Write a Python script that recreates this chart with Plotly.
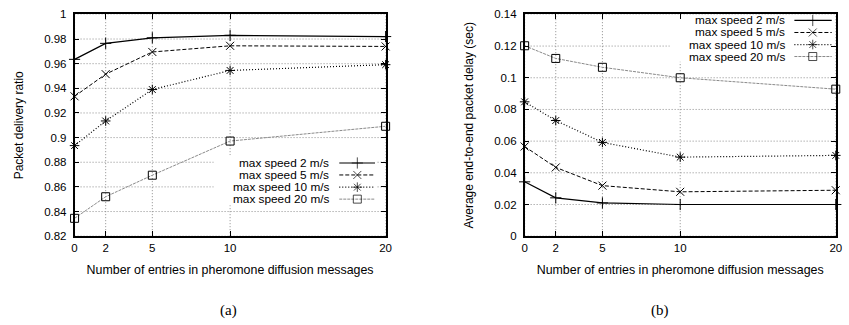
import plotly.graph_objects as go

# ---------------- data ----------------
entries = [0, 2, 5, 10, 20]
x_tick_labels = ["0", "2", "5", "10", "20"]
series_names = ["max speed 2 m/s", "max speed 5 m/s", "max speed 10 m/s", "max speed 20 m/s"]

pdr_2 = [0.9635, 0.9765, 0.981, 0.983, 0.982]
pdr_5 = [0.9335, 0.9515, 0.9695, 0.9745, 0.974]
pdr_10 = [0.8935, 0.9135, 0.939, 0.9545, 0.9592]
pdr_20 = [0.8345, 0.852, 0.8695, 0.8972, 0.9092]

delay_2 = [0.0343, 0.0242, 0.021, 0.0200, 0.0200]
delay_5 = [0.0566, 0.0434, 0.0319, 0.0280, 0.0290]
delay_10 = [0.0848, 0.0730, 0.0592, 0.0499, 0.0510]
delay_20 = [0.1202, 0.1122, 0.1066, 0.1000, 0.0928]

pdr_ticks = [0.82, 0.84, 0.86, 0.88, 0.90, 0.92, 0.94, 0.96, 0.98, 1.0]
pdr_tick_labels = ["0.82", "0.84", "0.86", "0.88", "0.9", "0.92", "0.94", "0.96", "0.98", "1"]
delay_ticks = [0, 0.02, 0.04, 0.06, 0.08, 0.10, 0.12, 0.14]
delay_tick_labels = ["0", "0.02", "0.04", "0.06", "0.08", "0.1", "0.12", "0.14"]

# ---------------- styles ----------------
styles = [
    dict(color="black", dash="solid", symbol="cross-thin-open", width=1.2),
    dict(color="black", dash="4px,2px", symbol="x-thin-open", width=1.0),
    dict(color="black", dash="1px,2px", symbol="asterisk-open", width=1.2),
    dict(color="#8a8a8a", dash="3px,1px", symbol="square-open", width=1.0),
]
FONT = "Liberation Sans, Arial, sans-serif"
GRID = dict(color="#8c8c8c", width=1, dash="1px,2px")

fig = go.Figure()


def add_series(ys_list, xa, ya):
    for ys, st in zip(ys_list, styles):
        fig.add_trace(go.Scatter(
            x=entries, y=ys, mode="lines+markers", xaxis=xa, yaxis=ya,
            line=dict(color=st["color"], dash=st["dash"], width=st["width"]),
            marker=dict(symbol=st["symbol"], size=8, color="black",
                        line=dict(color="black", width=1)),
            cliponaxis=False, showlegend=False, hoverinfo="skip"))


add_series([pdr_2, pdr_5, pdr_10, pdr_20], "x", "y")
add_series([delay_2, delay_5, delay_10, delay_20], "x2", "y2")

shapes = []
annotations = []

# ---------------- grid lines (below-layer shapes so the key box can mask them) ----------------
for xr, yr, yticks in (("x", "y", pdr_ticks), ("x2", "y2", delay_ticks)):
    for xv in entries:
        shapes.append(dict(type="line", xref=xr, yref=yr + " domain", x0=xv, x1=xv, y0=0, y1=1,
                           line=GRID, layer="below"))
    for yv in yticks:
        shapes.append(dict(type="line", xref=xr + " domain", yref=yr, x0=0, x1=1, y0=yv, y1=yv,
                           line=GRID, layer="below"))

# ---------------- custom gnuplot-like keys ----------------
keys = [
    dict(xa="x3", ya="y3", xr="x domain", yr="y domain", tx=0.825, sx=(0.851, 0.909, 0.966),
         rows=[0.330, 0.276, 0.221, 0.167], box=(0.4475, 0.139, 0.969, 0.365)),
    dict(xa="x4", ya="y4", xr="x2 domain", yr="y2 domain", tx=0.843, sx=(0.867, 0.926, 0.987),
         rows=[0.9726, 0.9184, 0.864, 0.810], box=(0.4666, 0.786, 0.995, 0.997)),
]
for k in keys:
    x0, y0, x1, y1 = k["box"]
    shapes.append(dict(type="rect", xref=k["xr"], yref=k["yr"], x0=x0, y0=y0, x1=x1, y1=y1,
                       fillcolor="white", line=dict(width=0), layer="below"))
    for name, st, ry in zip(series_names, styles, k["rows"]):
        annotations.append(dict(text=name, xref=k["xr"], yref=k["yr"], x=k["tx"], y=ry,
                                xanchor="right", yanchor="middle", showarrow=False,
                                font=dict(family=FONT, size=11.8, color="black")))
        fig.add_trace(go.Scatter(
            x=list(k["sx"]), y=[ry, ry, ry], mode="lines+markers", xaxis=k["xa"], yaxis=k["ya"],
            line=dict(color=st["color"], dash=st["dash"], width=st["width"]),
            marker=dict(symbol=st["symbol"], size=[0, 8, 0], color="black",
                        line=dict(color="black", width=1)),
            cliponaxis=False, showlegend=False, hoverinfo="skip"))

# captions
for cap, cx in (("(a)", 0.2686), ("(b)", 0.782)):
    annotations.append(dict(text=cap, xref="paper", yref="paper", x=cx, y=0.027,
                            xanchor="center", yanchor="middle", showarrow=False,
                            font=dict(family="Liberation Serif, serif", size=15, color="black")))

XT = "Number of entries in pheromone diffusion messages"
common_x = dict(range=[0, 20], tickvals=entries, ticktext=x_tick_labels, showgrid=False,
                zeroline=False, showline=True, linecolor="black", linewidth=1.5, mirror="ticks",
                ticks="inside", ticklen=5, tickcolor="black",
                tickfont=dict(family=FONT, size=11.5, color="black"),
                title=dict(text=XT, font=dict(family=FONT, size=12.4, color="black"), standoff=13))
common_y = dict(showgrid=False, zeroline=False,
                showline=True, linecolor="black", linewidth=1.5, mirror="ticks",
                ticks="inside", ticklen=5, tickcolor="black", ticklabelstandoff=4,
                tickfont=dict(family=FONT, size=11.5, color="black"))

ydom = [0.2646, 0.9732]
fig.update_layout(
    width=849, height=325, margin=dict(l=0, r=0, t=0, b=0),
    paper_bgcolor="white", plot_bgcolor="white", showlegend=False,
    xaxis=dict(domain=[0.0852, 0.4555], anchor="y", **common_x),
    yaxis=dict(domain=ydom, anchor="x", range=[0.82, 1.0], tickvals=pdr_ticks,
               ticktext=pdr_tick_labels,
               title=dict(text="Packet delivery ratio", font=dict(family=FONT, size=12, color="black"),
                          standoff=18), **common_y),
    xaxis2=dict(domain=[0.621, 0.9914], anchor="y2", **common_x),
    yaxis2=dict(domain=ydom, anchor="x2", range=[0, 0.14], tickvals=delay_ticks,
                ticktext=delay_tick_labels,
                title=dict(text="Average end-to-end packet delay (sec)",
                           font=dict(family=FONT, size=12, color="black"), standoff=18), **common_y),
    xaxis3=dict(overlaying="x", anchor="y3", range=[0, 1], visible=False, fixedrange=True),
    yaxis3=dict(overlaying="y", anchor="x3", range=[0, 1], visible=False, fixedrange=True),
    xaxis4=dict(overlaying="x2", anchor="y4", range=[0, 1], visible=False, fixedrange=True),
    yaxis4=dict(overlaying="y2", anchor="x4", range=[0, 1], visible=False, fixedrange=True),
    annotations=annotations, shapes=shapes,
)

fig.write_html("out.html")
